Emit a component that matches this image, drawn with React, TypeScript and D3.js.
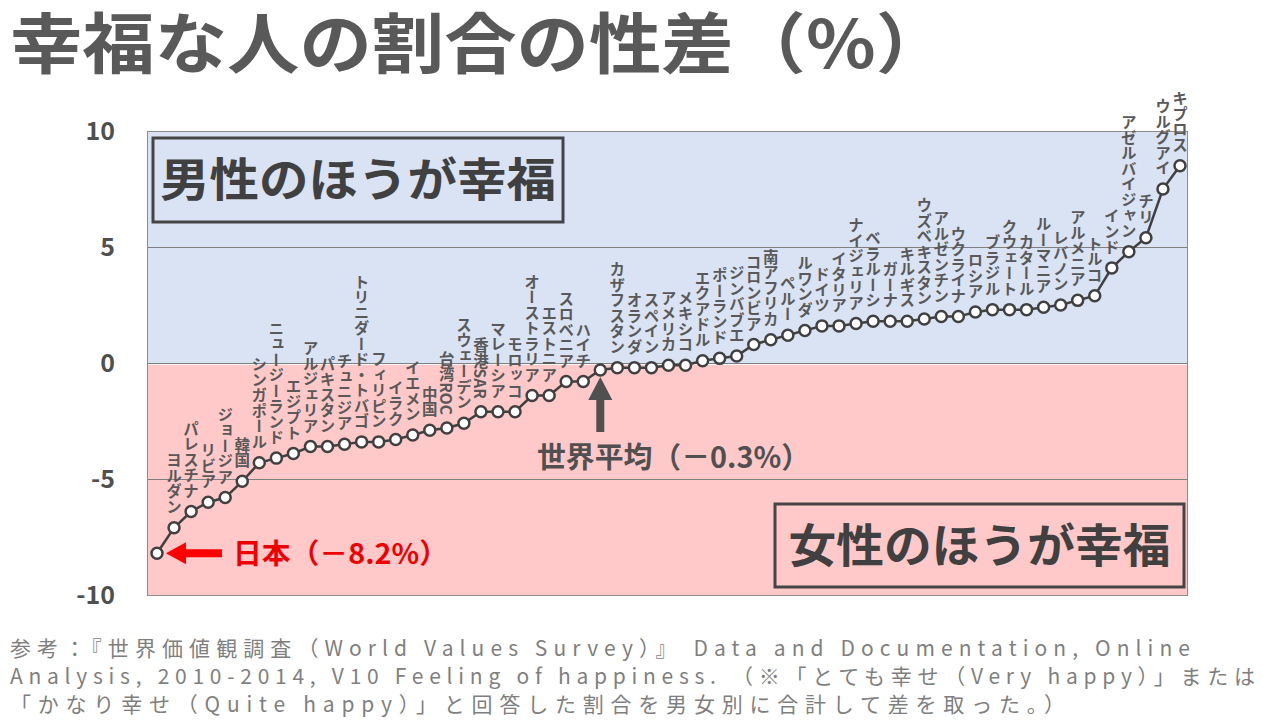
import React, { useEffect, useRef } from "react";
import * as d3 from "d3";

// countries sorted by (male - female) share of happy people, %
const countries = [
  "日本", "ヨルダン", "パレスチナ", "リビア", "ジョージア", "韓国", "シンガポール",
  "ニュージーランド", "エジプト", "アルジェリア", "パキスタン", "チュニジア",
  "トリニダード・トバゴ", "フィリピン", "イラク", "イエメン", "中国", "台湾ROC",
  "スウェーデン", "香港SAR", "マレーシア", "モロッコ", "オーストラリア", "エストニア",
  "スロベニア", "ハイチ", "世界平均", "カザフスタン", "オランダ", "スペイン", "アメリカ",
  "メキシコ", "エクアドル", "ポーランド", "ジンバブエ", "コロンビア", "南アフリカ",
  "ペルー", "ルワンダ", "ドイツ", "イタリア", "ナイジェリア", "ベラルーシ", "ガーナ",
  "キルギス", "ウズベキスタン", "アルゼンチン", "ウクライナ", "ロシア", "ブラジル",
  "クウェート", "カタール", "ルーマニア", "レバノン", "アルメニア", "トルコ", "インド",
  "アゼルバイジャン", "チリ", "ウルグアイ", "キプロス",
];

const values = [
  -8.2, -7.1, -6.4, -6.0, -5.8, -5.1, -4.3,
  -4.1, -3.9, -3.6, -3.6, -3.5,
  -3.4, -3.4, -3.3, -3.1, -2.9, -2.8,
  -2.6, -2.1, -2.1, -2.1, -1.4, -1.4,
  -0.8, -0.8, -0.3, -0.2, -0.2, -0.2, -0.1,
  -0.1, 0.1, 0.2, 0.3, 0.8, 1.0,
  1.2, 1.4, 1.6, 1.6, 1.7, 1.8, 1.8,
  1.8, 1.9, 2.0, 2.0, 2.2, 2.3,
  2.3, 2.3, 2.4, 2.5, 2.7, 2.9, 4.1,
  4.8, 5.4, 7.5, 8.5,
];

// points that get an annotation instead of a vertical label
const unlabeled = ["日本", "世界平均"];

const yTicks = [10, 5, 0, -5, -10];

const title = "幸福な人の割合の性差（%）";
const footerLines = [
  "参考：『世界価値観調査（World Values Survey）』 Data and Documentation, Online",
  "Analysis, 2010-2014, V10 Feeling of happiness. （※「とても幸せ（Very happy）」または",
  "「かなり幸せ（Quite happy）」と回答した割合を男女別に合計して差を取った。）",
];

const FONT = "'Noto Sans CJK JP', 'Noto Sans', sans-serif";

const App: React.FC = () => {
  const svgRef = useRef<SVGSVGElement | null>(null);

  useEffect(() => {
    if (!svgRef.current) return;
    const svg = d3.select(svgRef.current);
    svg.selectAll("*").remove();

    const left = 147;
    const right = 1188;
    const top = 131;
    const bottom = 595;

    const x = d3
      .scalePoint<number>()
      .domain(d3.range(values.length))
      .range([157, 1180]);
    const y = d3.scaleLinear().domain([-10, 10]).range([bottom, top]);

    svg.append("rect").attr("width", 1280).attr("height", 720).attr("fill", "#fff");

    // title
    svg
      .append("text")
      .attr("x", 10)
      .attr("y", 68)
      .attr("textLength", 938)
      .attr("lengthAdjust", "spacingAndGlyphs")
      .style("font-family", FONT)
      .style("font-weight", 700)
      .style("font-size", "66px")
      .style("fill", "#595959")
      .text(title);

    // background bands
    svg
      .append("rect")
      .attr("x", left)
      .attr("y", y(10))
      .attr("width", right - left)
      .attr("height", y(0) - y(10))
      .attr("fill", "#dae3f3");
    svg
      .append("rect")
      .attr("x", left)
      .attr("y", y(0))
      .attr("width", right - left)
      .attr("height", y(-10) - y(0))
      .attr("fill", "#ffc9c9");

    // grid
    svg
      .selectAll(".grid")
      .data([5, 0, -5])
      .enter()
      .append("line")
      .attr("class", "grid")
      .attr("x1", left)
      .attr("x2", right)
      .attr("y1", (d) => Math.round(y(d)) + 0.5)
      .attr("y2", (d) => Math.round(y(d)) + 0.5)
      .attr("stroke", "#7f7f7f")
      .attr("stroke-width", 1);
    svg
      .append("line")
      .attr("x1", left)
      .attr("x2", right)
      .attr("y1", Math.round(y(0)) + 1.5)
      .attr("y2", Math.round(y(0)) + 1.5)
      .attr("stroke", "#f4f4f4")
      .attr("stroke-width", 1);

    svg
      .append("rect")
      .attr("x", left + 0.5)
      .attr("y", top + 0.5)
      .attr("width", right - left - 1)
      .attr("height", bottom - top)
      .attr("fill", "none")
      .attr("stroke", "#8c8c8c")
      .attr("stroke-width", 1);

    // y axis labels
    svg
      .selectAll(".ytick")
      .data(yTicks)
      .enter()
      .append("text")
      .attr("class", "ytick")
      .attr("x", 115)
      .attr("y", (d) => y(d) + 9)
      .attr("text-anchor", "end")
      .style("font-family", FONT)
      .style("font-weight", 700)
      .style("font-size", "25px")
      .style("fill", "#505050")
      .text((d) => String(d));

    // region boxes
    const boxes = [
      { label: "男性のほうが幸福", x: 153, y: 138, w: 410, h: 84, len: 396 },
      { label: "女性のほうが幸福", x: 775, y: 504, w: 409, h: 83, len: 382 },
    ];
    const box = svg
      .selectAll(".box")
      .data(boxes)
      .enter()
      .append("g")
      .attr("class", "box");
    box
      .append("rect")
      .attr("x", (d) => d.x)
      .attr("y", (d) => d.y)
      .attr("width", (d) => d.w)
      .attr("height", (d) => d.h)
      .attr("fill", "none")
      .attr("stroke", "#454545")
      .attr("stroke-width", 3);
    box
      .append("text")
      .attr("x", (d) => d.x + d.w / 2)
      .attr("y", (d) => d.y + d.h / 2 + 16)
      .attr("text-anchor", "middle")
      .attr("textLength", (d) => d.len)
      .attr("lengthAdjust", "spacingAndGlyphs")
      .style("font-family", FONT)
      .style("font-weight", 700)
      .style("font-size", "46px")
      .style("fill", "#404040")
      .text((d) => d.label);

    // vertical country labels
    svg
      .selectAll(".clabel")
      .data(countries.map((c, i) => ({ c, i })).filter((d) => !unlabeled.includes(d.c)))
      .enter()
      .append("text")
      .attr("class", "clabel")
      .attr("x", (d) => x(d.i) ?? 0)
      .attr("y", (d) => y(values[d.i]) - 13)
      .attr("text-anchor", "end")
      .style("writing-mode", "vertical-rl")
      .style("text-orientation", "mixed")
      .style("font-family", FONT)
      .style("font-weight", 700)
      .style("font-size", "15.5px")
      .style("fill", "#595959")
      .text((d) => d.c);

    // series
    const line = d3
      .line<number>()
      .x((_, i) => x(i) ?? 0)
      .y((d) => y(d));
    svg
      .append("path")
      .datum(values)
      .attr("fill", "none")
      .attr("stroke", "#404040")
      .attr("stroke-width", 2.5)
      .attr("d", line);
    svg
      .selectAll(".pt")
      .data(values)
      .enter()
      .append("circle")
      .attr("class", "pt")
      .attr("cx", (_, i) => x(i) ?? 0)
      .attr("cy", (d) => y(d))
      .attr("r", 5.5)
      .attr("fill", "#fff")
      .attr("stroke", "#404040")
      .attr("stroke-width", 2.5);

    // world average annotation
    const wi = countries.indexOf("世界平均");
    const wx = x(wi) ?? 0;
    const wy = y(values[wi]);
    svg
      .append("path")
      .attr(
        "d",
        `M${wx},${wy + 7}L${wx + 12},${wy + 30}L${wx + 4},${wy + 30}L${wx + 4},${wy + 62}` +
          `L${wx - 4},${wy + 62}L${wx - 4},${wy + 30}L${wx - 12},${wy + 30}Z`
      )
      .attr("fill", "#505050");
    svg
      .append("text")
      .attr("x", 537)
      .attr("y", 468)
      .attr("textLength", 273)
      .attr("lengthAdjust", "spacingAndGlyphs")
      .style("font-family", FONT)
      .style("font-weight", 700)
      .style("font-size", "29px")
      .style("fill", "#505050")
      .text("世界平均（－0.3%）");

    // Japan annotation
    const jx = x(0) ?? 0;
    const jy = y(values[0]);
    svg
      .append("path")
      .attr(
        "d",
        `M${jx + 9},${jy}L${jx + 29},${jy - 11}L${jx + 29},${jy - 4}L${jx + 65},${jy - 4}` +
          `L${jx + 65},${jy + 4}L${jx + 29},${jy + 4}L${jx + 29},${jy + 11}Z`
      )
      .attr("fill", "#ff0000");
    svg
      .append("text")
      .attr("x", 233)
      .attr("y", 564)
      .attr("textLength", 215)
      .attr("lengthAdjust", "spacingAndGlyphs")
      .style("font-family", FONT)
      .style("font-weight", 700)
      .style("font-size", "28px")
      .style("fill", "#ee0000")
      .text("日本（－8.2%）");

    // footer
    const footerLen = [1180, 1245, 1055];
    svg
      .selectAll(".foot")
      .data(footerLines)
      .enter()
      .append("text")
      .attr("class", "foot")
      .attr("x", 10)
      .attr("y", (_, i) => 656 + i * 28)
      .attr("textLength", (_, i) => footerLen[i])
      .attr("lengthAdjust", "spacing")
      .style("font-family", FONT)
      .style("font-size", "21px")
      .style("fill", "#7f7f7f")
      .text((d) => d);
  }, []);

  return (
    <div style={{ position: "absolute", left: 0, top: 0, width: 1280, height: 720 }}>
      <svg ref={svgRef} width={1280} height={720} />
    </div>
  );
};

export default App;
